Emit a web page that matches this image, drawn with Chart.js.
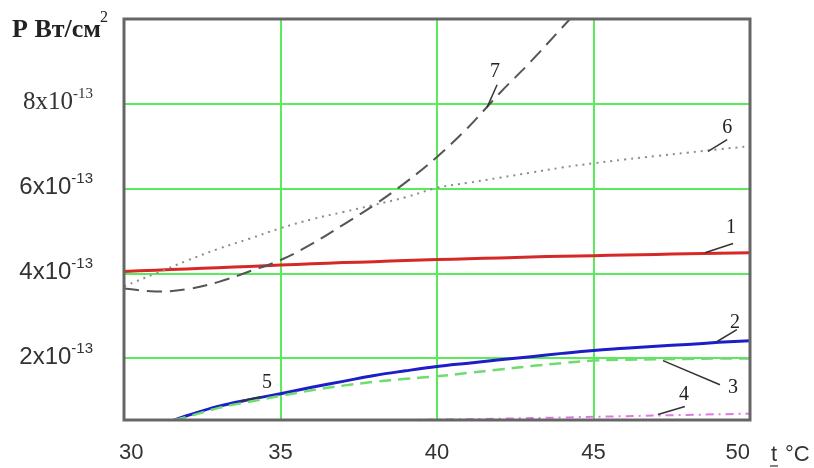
<!DOCTYPE html>
<html lang="ru">
<head>
  <meta charset="UTF-8">
  <title>P(t)</title>
  <script src="https://cdn.jsdelivr.net/npm/chart.js@4/dist/chart.umd.min.js"></script>
  <style>
    body { margin: 0; background: #fff; }
  </style>
</head>
<body>
  <canvas id="c" width="814" height="468"></canvas>
  <script>
    // values in units of 1e-13 W/cm2
    const tAll = [30, 31, 32, 33, 34, 35, 36, 37, 38, 39, 40, 41, 42, 43, 44, 45, 46, 47, 48, 49, 50];
    const p1 = [4.05, 4.08, 4.11, 4.14, 4.17, 4.2, 4.23, 4.26, 4.28, 4.31, 4.33, 4.35, 4.37, 4.39, 4.41, 4.42, 4.44, 4.45, 4.47, 4.48, 4.49];
    const p6 = [3.7, 4.0, 4.3, 4.58, 4.82, 5.07, 5.28, 5.45, 5.62, 5.8, 6.02, 6.14, 6.26, 6.38, 6.5, 6.6, 6.69, 6.77, 6.85, 6.93, 7.0];

    const t7 = [30, 31, 32, 33, 34, 35, 36, 37, 38, 39, 40, 41, 42, 43, 44, 45];
    const p7 = [3.65, 3.58, 3.63, 3.8, 4.05, 4.32, 4.7, 5.15, 5.62, 6.15, 6.75, 7.45, 8.25, 9.0, 9.8, 10.6];

    const t23 = [31.6, 32, 33, 34, 35, 36, 37, 38, 39, 40, 41, 42, 43, 44, 45, 46, 47, 48, 49, 50];
    const p2 = [0.55, 0.65, 0.87, 1.03, 1.17, 1.32, 1.46, 1.6, 1.71, 1.81, 1.89, 1.97, 2.04, 2.12, 2.19, 2.24, 2.29, 2.33, 2.38, 2.42];
    const p3 = [0.55, 0.62, 0.83, 0.98, 1.12, 1.25, 1.36, 1.45, 1.52, 1.58, 1.66, 1.74, 1.82, 1.89, 1.95, 1.97, 1.98, 1.99, 2.0, 2.0];

    const t4 = [39, 40, 42, 44, 46, 48, 50];
    const p4 = [0.55, 0.56, 0.58, 0.61, 0.64, 0.67, 0.7];

    const xTicks = [30, 35, 40, 45, 50];
    const yTicks = [2, 4, 6, 8];

    // curve numbers: text point and leader line, in data units
    const curveNames = ['1', '2', '3', '4', '5', '6', '7'];
    const nameAt = [[49.39, 5.08], [49.52, 2.85], [49.46, 1.32], [47.89, 1.15], [34.57, 1.43], [49.27, 7.44], [41.85, 8.76]];
    const leaderFrom = [[48.56, 4.49], [48.95, 2.4], [47.22, 1.95], [47.06, 0.68], [33.71, 1.0], [48.66, 6.88], [41.6, 7.92]];
    const leaderTo = [[49.46, 4.71], [49.58, 2.68], [49.04, 1.38], [47.92, 0.87], [34.41, 1.1], [49.27, 7.16], [41.92, 8.45]];

    function pts(xs, ys) {
      return xs.map((x, i) => ({ x: x, y: ys[i] }));
    }

    const frame = {
      id: 'frame',
      afterDatasetsDraw(chart) {
        const ctx = chart.ctx, a = chart.chartArea;
        const xs = chart.scales.x, ys = chart.scales.y;
        ctx.save();
        // leaders and numbers
        ctx.strokeStyle = '#333';
        ctx.lineWidth = 1.5;
        for (let i = 0; i < curveNames.length; i++) {
          ctx.beginPath();
          ctx.moveTo(xs.getPixelForValue(leaderFrom[i][0]), ys.getPixelForValue(leaderFrom[i][1]));
          ctx.lineTo(xs.getPixelForValue(leaderTo[i][0]), ys.getPixelForValue(leaderTo[i][1]));
          ctx.stroke();
        }
        ctx.fillStyle = '#222';
        ctx.font = '20px "Liberation Serif"';
        ctx.textAlign = 'center';
        ctx.textBaseline = 'middle';
        curveNames.forEach((n, i) => {
          ctx.fillText(n, xs.getPixelForValue(nameAt[i][0]), ys.getPixelForValue(nameAt[i][1]));
        });
        // plot border
        ctx.strokeStyle = '#666';
        ctx.lineWidth = 3;
        ctx.strokeRect(a.left, a.top, a.right - a.left, a.bottom - a.top);
        ctx.restore();
      },
      afterDraw(chart) {
        const ctx = chart.ctx;
        const xs = chart.scales.x, ys = chart.scales.y;
        ctx.save();
        ctx.fillStyle = '#333';
        // x tick labels
        ctx.font = '22px "Liberation Sans"';
        ctx.textBaseline = 'middle';
        xs.ticks.forEach((t, i) => {
          const px = xs.getPixelForValue(t.value);
          ctx.textAlign = i === 0 ? 'left' : (i === xs.ticks.length - 1 ? 'right' : 'center');
          ctx.fillText(String(t.value), px - (i === 0 ? 5 : 0), 453);
        });
        // y tick labels with exponent
        ys.ticks.forEach(t => {
          const py = ys.getPixelForValue(t.value) - 3;
          const serif = t.value === 8;
          const big = serif ? '25px "Liberation Serif"' : '24px "Liberation Sans"';
          const small = serif ? '15px "Liberation Serif"' : '15px "Liberation Sans"';
          const base = t.value + 'x10';
          ctx.font = small;
          const we = ctx.measureText('-13').width;
          ctx.font = big;
          const wb = ctx.measureText(base).width;
          const right = 93;
          ctx.textAlign = 'left';
          ctx.textBaseline = 'middle';
          ctx.fillText(base, right - we - wb, py + 2);
          ctx.font = small;
          ctx.fillText('-13', right - we, py - 7);
        });
        // axis titles
        ctx.fillStyle = '#222';
        ctx.textAlign = 'left';
        ctx.textBaseline = 'alphabetic';
        ctx.font = 'bold 26px "Liberation Serif"';
        ctx.fillText('P Вт/см', 12, 37);
        const w = ctx.measureText('P Вт/см').width;
        ctx.font = '16px "Liberation Serif"';
        ctx.fillText('2', 12 + w - 1, 22);
        ctx.fillStyle = '#333';
        ctx.font = '22px "Liberation Sans"';
        ctx.fillText('t', 771, 461);
        ctx.fillText('°C', 785, 461);
        ctx.strokeStyle = '#333';
        ctx.lineWidth = 1.2;
        ctx.beginPath();
        ctx.moveTo(770, 466);
        ctx.lineTo(778, 466);
        ctx.stroke();
        ctx.restore();
      }
    };

    const line = (label, data, color, width, dash) => ({
      label: label,
      data: data,
      borderColor: color,
      borderWidth: width,
      borderDash: dash,
      pointRadius: 0,
      fill: false,
      tension: 0.4
    });

    new Chart(document.getElementById('c'), {
      type: 'line',
      data: {
        datasets: [
          line('7', pts(t7, p7), 'rgb(85,85,85)', 2, [15, 8]),
          line('6', pts(tAll, p6), 'rgb(140,140,140)', 2, [2, 5]),
          line('4', pts(t4, p4), 'rgb(225,120,225)', 2, [8, 5, 2, 5]),
          line('3', pts(t23, p3), 'rgb(110,220,110)', 2.5, [12, 7]),
          line('2', pts(t23, p2), 'rgb(30,30,200)', 3, []),
          line('1', pts(tAll, p1), 'rgb(215,40,40)', 3, [])
        ]
      },
      options: {
        responsive: false,
        animation: false,
        devicePixelRatio: 1,
        layout: { padding: { left: 124, top: 19, right: 64, bottom: 48 } },
        plugins: { legend: { display: false }, tooltip: { enabled: false } },
        scales: {
          x: {
            type: 'linear',
            min: 30,
            max: 50,
            afterBuildTicks: s => { s.ticks = xTicks.map(v => ({ value: v })); },
            afterFit: s => { s.height = 0; },
            ticks: { display: false },
            border: { display: false },
            grid: { color: 'rgb(90,235,90)', lineWidth: 2, drawTicks: false }
          },
          y: {
            type: 'linear',
            min: 0.55,
            max: 10,
            afterBuildTicks: s => { s.ticks = yTicks.map(v => ({ value: v })); },
            afterFit: s => { s.width = 0; },
            ticks: { display: false },
            border: { display: false },
            grid: { color: 'rgb(90,235,90)', lineWidth: 2, drawTicks: false }
          }
        }
      },
      plugins: [frame]
    });
  </script>
</body>
</html>
